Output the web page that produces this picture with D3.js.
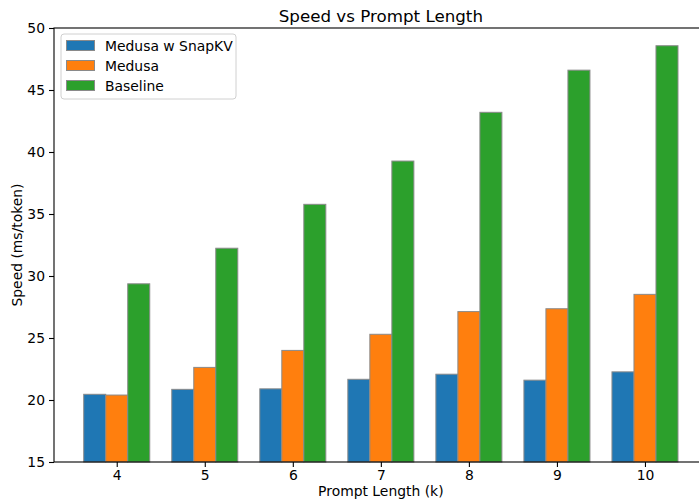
<!DOCTYPE html>
<html>
<head>
<meta charset="utf-8">
<script src="https://cdn.jsdelivr.net/npm/d3@7"></script>
<style>
  body { margin: 0; background: #fff; }
  svg { display: block; font-family: "DejaVu Sans", sans-serif; }
</style>
</head>
<body>
<svg id="chart" width="699" height="499"></svg>
<script>
// prompt lengths (k)
const lengths = [4, 5, 6, 7, 8, 9, 10];
const seriesNames = ["Medusa w SnapKV", "Medusa", "Baseline"];
const snapkv = [20.46, 20.86, 20.9, 21.67, 22.08, 21.6, 22.27];
const medusa = [20.4, 22.63, 24.0, 25.3, 27.13, 27.36, 28.52];
const baseline = [29.37, 32.24, 35.78, 39.27, 43.2, 46.6, 48.57];
const colors = ["#1f77b4", "#ff7f0e", "#2ca02c"];
const yTicks = [15, 20, 25, 30, 35, 40, 45, 50];

const series = [snapkv, medusa, baseline];
const barW = 0.25;

const svg = d3.select("#chart");
const mLeft = 54, mRight = 707.7, mTop = 28, mBottom = 462;

// matplotlib style limits: bars span 3.625..10.375, plus 5% margin
const x = d3.scaleLinear().domain([3.2875, 10.7125]).range([mLeft, mRight]);
const y = d3.scaleLinear().domain([15, 50]).range([mBottom, mTop]);

// bars
series.forEach((vals, s) => {
  svg.append("g").selectAll("rect")
    .data(vals)
    .join("rect")
    .attr("x", (d, i) => x(lengths[i] + (s - 1) * barW - barW / 2))
    .attr("y", d => y(d))
    .attr("width", x(barW) - x(0))
    .attr("height", d => y(15) - y(d))
    .attr("fill", colors[s])
    .attr("stroke", "#8a8a8a")
    .attr("stroke-width", 1);
});

// axes
const xAxis = d3.axisBottom(x).tickValues(lengths).tickSizeOuter(0).tickSizeInner(5).tickPadding(3);
const gx = svg.append("g").attr("transform", `translate(0,${mBottom})`).call(xAxis);
const yAxis = d3.axisLeft(y).tickValues(yTicks).tickSizeOuter(0).tickSizeInner(5).tickPadding(4);
const gy = svg.append("g").attr("transform", `translate(${mLeft},0)`).call(yAxis);
[gx, gy].forEach(g => {
  g.selectAll("text").attr("font-size", 13.9).attr("fill", "#000").attr("font-family", "DejaVu Sans");
  g.selectAll("line").attr("stroke", "#000").attr("stroke-width", 1.1);
  g.select(".domain").remove();
});

// spines
svg.append("rect")
  .attr("x", mLeft).attr("y", mTop)
  .attr("width", mRight - mLeft).attr("height", mBottom - mTop)
  .attr("fill", "none").attr("stroke", "#000").attr("stroke-width", 1.1);

// titles
svg.append("text")
  .attr("x", (mLeft + mRight) / 2).attr("y", 22)
  .attr("text-anchor", "middle").attr("font-size", 16.7)
  .text("Speed vs Prompt Length");
svg.append("text")
  .attr("x", (mLeft + mRight) / 2).attr("y", 496)
  .attr("text-anchor", "middle").attr("font-size", 13.9)
  .text("Prompt Length (k)");
svg.append("text")
  .attr("transform", `translate(22,${(mTop + mBottom) / 2}) rotate(-90)`)
  .attr("text-anchor", "middle").attr("font-size", 13.9)
  .text("Speed (ms/token)");

// legend
const lg = svg.append("g").attr("transform", "translate(61,34)");
lg.append("rect")
  .attr("width", 175).attr("height", 65).attr("rx", 3)
  .attr("fill", "#fff").attr("fill-opacity", 0.8)
  .attr("stroke", "#d0d0d0").attr("stroke-width", 1);
seriesNames.forEach((name, i) => {
  const row = lg.append("g").attr("transform", `translate(0,${6 + i * 20})`);
  row.append("rect")
    .attr("x", 5.5).attr("y", 0.5).attr("width", 28).attr("height", 10)
    .attr("fill", colors[i]).attr("stroke", "#8a8a8a").attr("stroke-width", 1);
  row.append("text")
    .attr("x", 44).attr("y", 10.5).attr("font-size", 13.9)
    .text(name);
});
</script>
</body>
</html>
